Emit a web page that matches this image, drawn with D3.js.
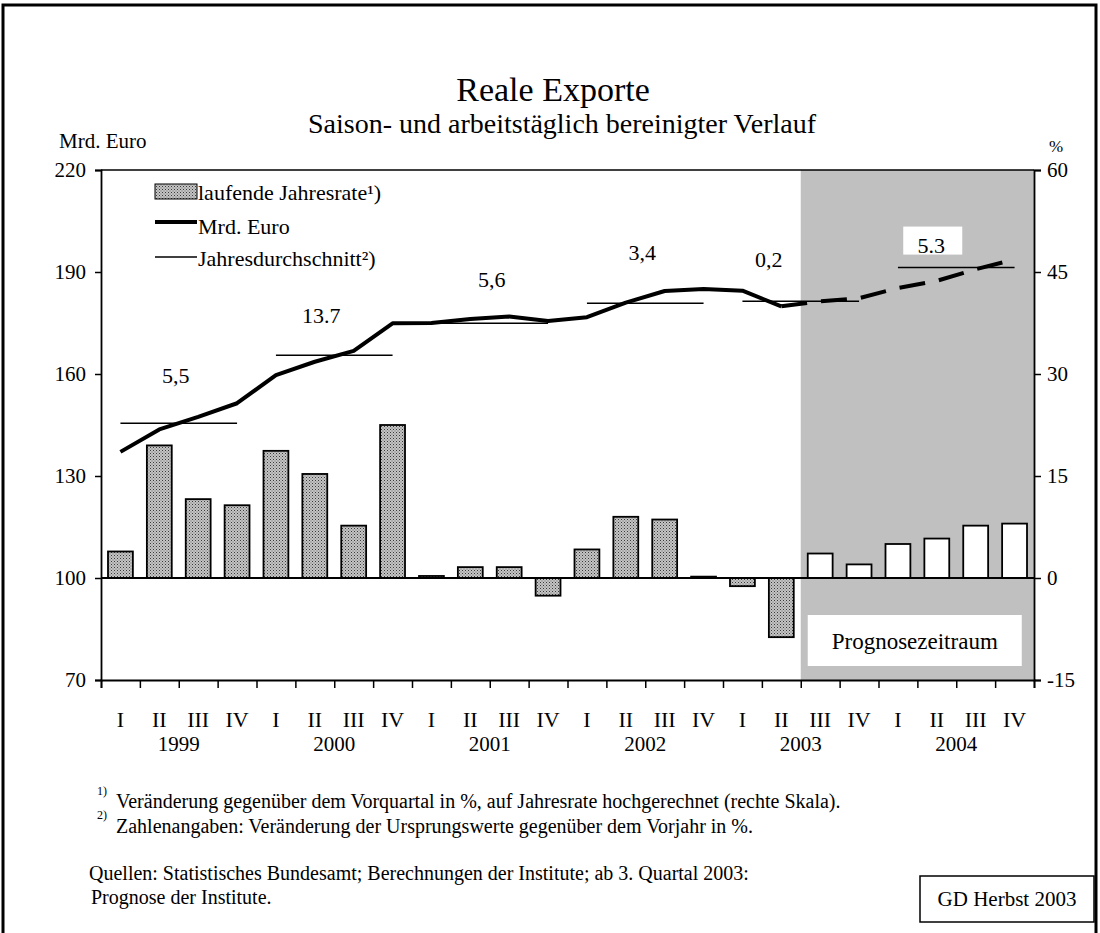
<!DOCTYPE html>
<html>
<head>
<meta charset="utf-8">
<title>Reale Exporte</title>
<script src="https://d3js.org/d3.v7.min.js"></script>
<style>
	body { margin: 0; background: #fff; }
	svg text { font-family: "Liberation Serif", "Times New Roman", serif; fill: #000; }
</style>
</head>
<body>
<svg width="1100" height="933"></svg>
<script>
// Data
var quarters = ["I", "II", "III", "IV", "I", "II", "III", "IV", "I", "II", "III", "IV",
                "I", "II", "III", "IV", "I", "II", "III", "IV", "I", "II", "III", "IV"];
var years = ["1999", "2000", "2001", "2002", "2003", "2004"];
// laufende Jahresrate in % (rechte Skala)
var rate = [3.9, 19.5, 11.6, 10.7, 18.7, 15.3, 7.7, 22.5,
            0.3, 1.6, 1.6, -2.6, 4.2, 9.0, 8.6, 0.2,
            -1.2, -8.7, 3.6, 2.0, 5.0, 5.8, 7.7, 8.0];
// Mrd. Euro (linke Skala)
var level = [137.1, 143.7, 147.4, 151.4, 159.7, 163.6, 166.8, 174.9,
             175.0, 176.2, 176.9, 175.6, 176.7, 181.0, 184.4, 185.0,
             184.5, 179.9, 181.4, 182.3, 185.3, 187.4, 190.8, 193.7];
// Jahresdurchschnitt (Mrd. Euro) and labels
var yearAvg = [145.5, 165.5, 174.9, 180.8, 181.4, 191.3];
var yearLabel = ["5,5", "13.7", "5,6", "3,4", "0,2", "5.3"];
var forecastStart = 18;   // ab 3. Quartal 2003
var leftTicks = [70, 100, 130, 160, 190, 220];
var rightTicks = [-15, 0, 15, 30, 45, 60];

var svg = d3.select("svg");
var pLeft = 101, pRight = 1034, pTop = 170, pBottom = 680;

// outer frame
svg.append("rect").attr("x", 3).attr("y", 5).attr("width", 1093).attr("height", 940)
	.attr("fill", "none").attr("stroke", "#000").attr("stroke-width", 3);

// dotted pattern for bars
var defs = svg.append("defs");
var pat = defs.append("pattern").attr("id", "dots")
	.attr("patternUnits", "userSpaceOnUse").attr("width", 3).attr("height", 3);
pat.append("rect").attr("width", 3).attr("height", 3).attr("fill", "#c4c4c4");
pat.append("rect").attr("width", 1).attr("height", 1).attr("fill", "#3a3a3a");
pat.append("rect").attr("x", 1.5).attr("y", 1.5).attr("width", 1).attr("height", 1).attr("fill", "#6a6a6a");

// scales
var x = d3.scaleBand().domain(d3.range(quarters.length)).range([pLeft, pRight]).padding(0);
var xTick = d3.scaleLinear().domain([0, quarters.length]).range([pLeft, pRight]);
var yL = d3.scaleLinear().domain([70, 220]).range([pBottom, pTop]);
var yR = d3.scaleLinear().domain([-15, 60]).range([pBottom, pTop]);
var cx = function (i) { return x(i) + x.bandwidth() / 2; };

// forecast area
svg.append("rect")
	.attr("x", xTick(forecastStart)).attr("y", pTop)
	.attr("width", pRight - xTick(forecastStart)).attr("height", pBottom - pTop)
	.attr("fill", "#c0c0c0");
svg.append("rect")
	.attr("x", xTick(forecastStart) + 7).attr("y", 615)
	.attr("width", 214).attr("height", 51).attr("fill", "#fff");
svg.append("text").attr("x", xTick(forecastStart) + 114).attr("y", 649)
	.attr("text-anchor", "middle").style("font-size", "23px").text("Prognosezeitraum");

// top frame line
svg.append("line").attr("x1", pLeft).attr("x2", pRight).attr("y1", pTop).attr("y2", pTop)
	.attr("stroke", "#000").attr("stroke-width", 1.5);

// bars
var bw = x.bandwidth() * 0.64;
svg.append("g").selectAll("rect").data(rate).enter().append("rect")
	.attr("x", function (d, i) { return cx(i) - bw / 2; })
	.attr("y", function (d) { return yR(Math.max(0, d)); })
	.attr("width", bw)
	.attr("height", function (d) { return Math.max(1, Math.abs(yR(d) - yR(0))); })
	.attr("fill", function (d, i) { return i >= forecastStart ? "#fff" : "url(#dots)"; })
	.attr("stroke", "#000").attr("stroke-width", 1.8);

// zero line
svg.append("line").attr("x1", pLeft).attr("x2", pRight).attr("y1", yR(0)).attr("y2", yR(0))
	.attr("stroke", "#000").attr("stroke-width", 1.8);

// year averages
svg.append("g").selectAll("line").data(yearAvg).enter().append("line")
	.attr("x1", function (d, i) { return cx(i * 4); })
	.attr("x2", function (d, i) { return cx(i * 4 + 3); })
	.attr("y1", function (d) { return yL(d); })
	.attr("y2", function (d) { return yL(d); })
	.attr("stroke", "#000").attr("stroke-width", 1.5);

// level line: solid up to 2003 Q2, dashed afterwards
var line = d3.line().x(function (d) { return cx(d.i); }).y(function (d) { return yL(d.v); });
var pts = level.map(function (v, i) { return { i: i, v: v }; });
svg.append("path").datum(pts.slice(0, forecastStart))
	.attr("d", line).attr("fill", "none").attr("stroke", "#000")
	.attr("stroke-width", 4).attr("stroke-linejoin", "round");
svg.append("path").datum(pts.slice(forecastStart - 1))
	.attr("d", line).attr("fill", "none").attr("stroke", "#000")
	.attr("stroke-width", 4).attr("stroke-dasharray", "26,14");

// year average labels (layout offsets)
var labDx = [-3, -13, 2, -3, -32, -25];
var labDy = [40, 32, 36, 43, 34, 15];
yearLabel.forEach(function (t, i) {
	var mx = (cx(i * 4) + cx(i * 4 + 3)) / 2 + labDx[i];
	var my = yL(yearAvg[i]) - labDy[i];
	if (i === 5) {
		svg.append("rect").attr("x", mx - 28).attr("y", my - 26)
			.attr("width", 59).attr("height", 28).attr("fill", "#fff");
	}
	svg.append("text").attr("x", mx).attr("y", my)
		.attr("text-anchor", "middle").style("font-size", "22px").text(t);
});

// axes
var plain = function (d) { return String(d); };
var axL = svg.append("g").attr("transform", "translate(" + pLeft + ",0)")
	.call(d3.axisLeft(yL).tickValues(leftTicks).tickFormat(plain).tickSize(6).tickPadding(9));
var axR = svg.append("g").attr("transform", "translate(" + pRight + ",0)")
	.call(d3.axisRight(yR).tickValues(rightTicks).tickFormat(plain).tickSize(7).tickPadding(6));
var axB = svg.append("g").attr("transform", "translate(0," + pBottom + ")")
	.call(d3.axisBottom(xTick).tickValues(d3.range(quarters.length + 1)).tickSize(8).tickFormat(""));
[axL, axR, axB].forEach(function (a) {
	a.attr("font-family", null).attr("font-size", null);
	a.select(".domain").attr("stroke-width", 1.8);
	a.selectAll(".tick line").attr("stroke-width", 1.5);
	a.selectAll("text").style("font-size", "21px");
});

// quarter and year labels
svg.append("g").selectAll("text").data(quarters).enter().append("text")
	.attr("x", function (d, i) { return cx(i); }).attr("y", 727)
	.attr("text-anchor", "middle").style("font-size", "22px").text(function (d) { return d; });
svg.append("g").selectAll("text").data(years).enter().append("text")
	.attr("x", function (d, i) { return xTick(i * 4 + 2); }).attr("y", 751)
	.attr("text-anchor", "middle").style("font-size", "21px").text(function (d) { return d; });

// titles
svg.append("text").attr("x", 553).attr("y", 101).attr("text-anchor", "middle")
	.style("font-size", "34px").text("Reale Exporte");
svg.append("text").attr("x", 562).attr("y", 133).attr("text-anchor", "middle")
	.style("font-size", "28px").text("Saison- und arbeitstäglich bereinigter Verlauf");
svg.append("text").attr("x", 59).attr("y", 148).style("font-size", "21px").text("Mrd. Euro");
svg.append("text").attr("x", 1049).attr("y", 152).style("font-size", "17px").text("%");

// legend
var lg = svg.append("g").style("font-size", "22px");
lg.append("rect").attr("x", 155).attr("y", 184).attr("width", 42).attr("height", 15)
	.attr("fill", "url(#dots)").attr("stroke", "#000").attr("stroke-width", 1);
lg.append("text").attr("x", 198).attr("y", 200).text("laufende Jahresrate¹)");
lg.append("line").attr("x1", 155).attr("x2", 197).attr("y1", 222).attr("y2", 222)
	.attr("stroke", "#000").attr("stroke-width", 4);
lg.append("text").attr("x", 198).attr("y", 234).text("Mrd. Euro");
lg.append("line").attr("x1", 155).attr("x2", 197).attr("y1", 257).attr("y2", 257)
	.attr("stroke", "#000").attr("stroke-width", 1.5);
lg.append("text").attr("x", 198).attr("y", 266).text("Jahresdurchschnitt²)");

// footnotes
var fn = svg.append("g").style("font-size", "20px");
fn.append("text").attr("x", 97).attr("y", 795).style("font-size", "12px").text("1)");
fn.append("text").attr("x", 116).attr("y", 808)
	.text("Veränderung gegenüber dem Vorquartal in %, auf Jahresrate hochgerechnet (rechte Skala).");
fn.append("text").attr("x", 97).attr("y", 819).style("font-size", "12px").text("2)");
fn.append("text").attr("x", 116).attr("y", 833)
	.text("Zahlenangaben: Veränderung der Ursprungswerte gegenüber dem Vorjahr in %.");
fn.append("text").attr("x", 89).attr("y", 880)
	.text("Quellen: Statistisches Bundesamt; Berechnungen der Institute; ab 3. Quartal 2003:");
fn.append("text").attr("x", 91).attr("y", 904).text("Prognose der Institute.");

// source box
svg.append("rect").attr("x", 920).attr("y", 876).attr("width", 174).attr("height", 46)
	.attr("fill", "#fff").attr("stroke", "#000").attr("stroke-width", 1.5);
svg.append("text").attr("x", 1007).attr("y", 906).attr("text-anchor", "middle")
	.style("font-size", "21px").text("GD Herbst 2003");
</script>
</body>
</html>
